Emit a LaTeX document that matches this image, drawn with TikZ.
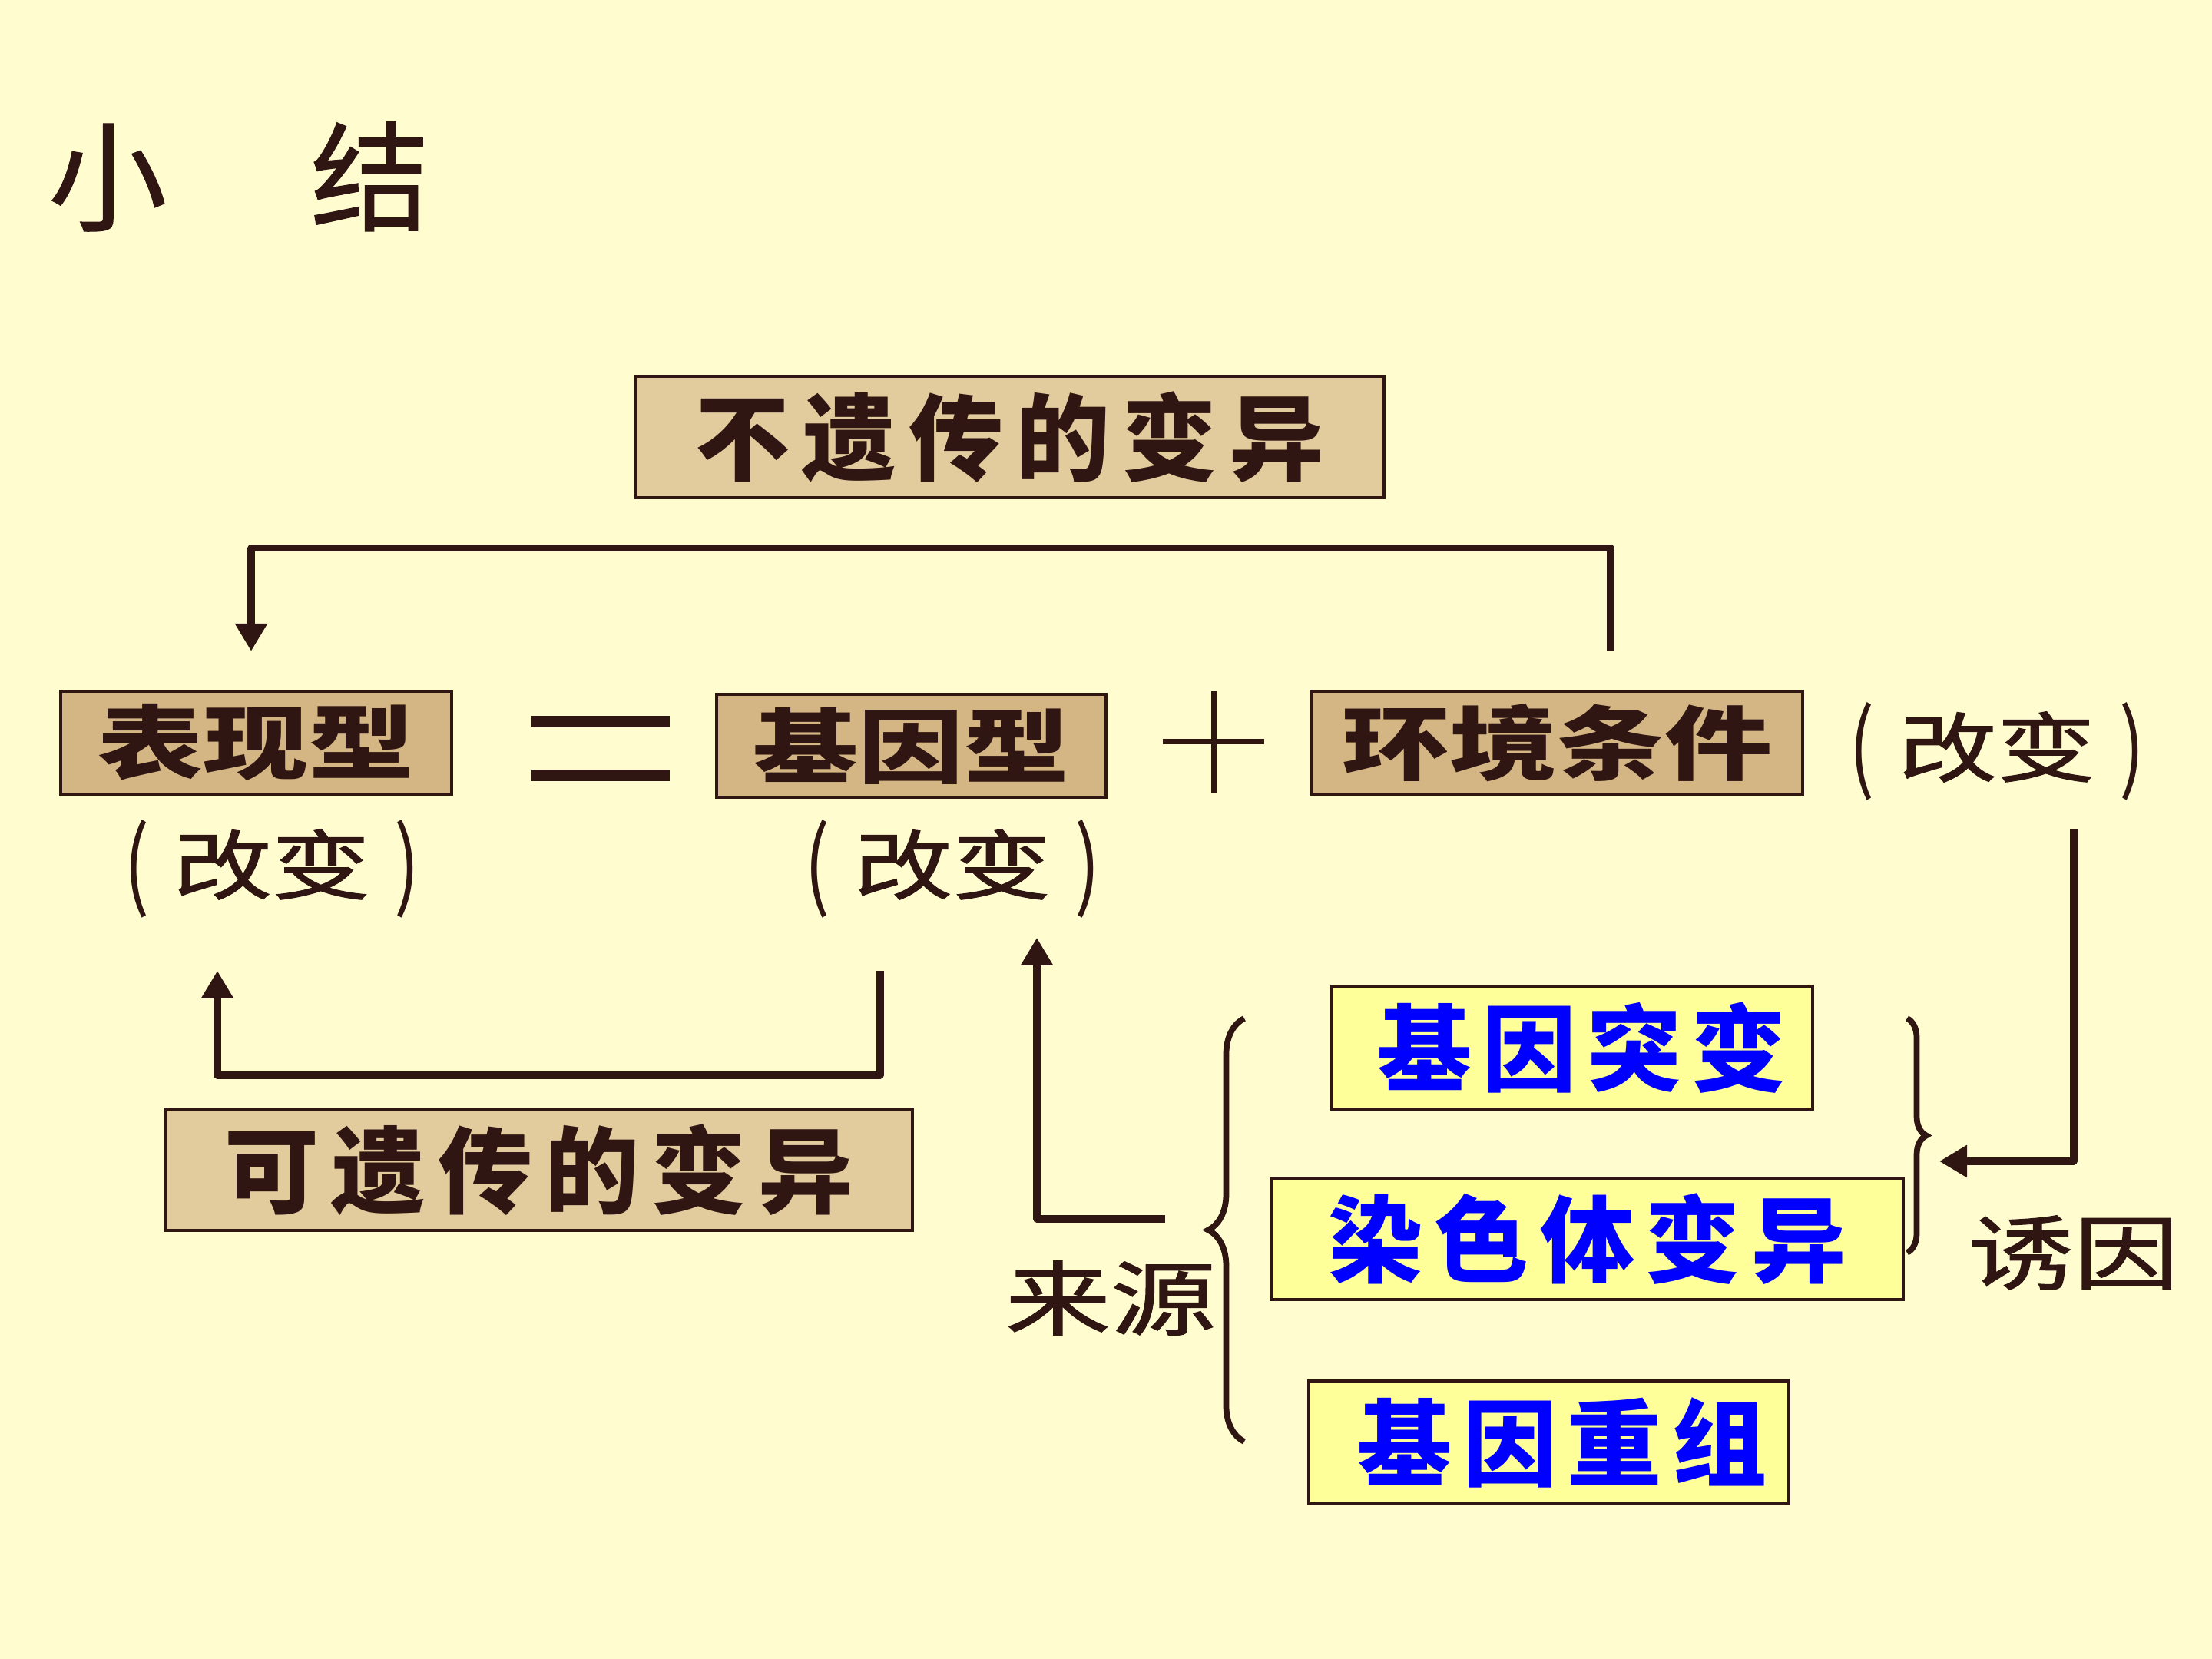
\documentclass[tikz,border=0pt]{standalone}
\usepackage{fontspec}
\usepackage{graphicx}
\setmainfont{Noto Sans CJK SC}
\usetikzlibrary{arrows.meta,decorations.pathreplacing}
\definecolor{bg}{RGB}{255,253,208}
\definecolor{ink}{RGB}{48,22,18}
\definecolor{tanc}{RGB}{212,181,132}
\definecolor{papc}{RGB}{226,204,158}
\definecolor{ylw}{RGB}{255,255,153}
\definecolor{blu}{RGB}{0,0,255}
\newcommand{\gaibianlbl}{\raisebox{-2pt}{\scalebox{1}[1.28]{(}}\hspace{9pt}{\addfontfeatures{FakeBold=1.2}\scalebox{1.3}[1]{改变}}\hspace{9pt}\raisebox{-2pt}{\scalebox{1}[1.28]{)}}}
\begin{document}
\begin{tikzpicture}[x=1cm,y=1cm,
  box/.style={draw=ink, line width=1.2pt, inner sep=0pt, anchor=center},
  tanbox/.style={box, fill=tanc, text=ink, font=\bfseries\fontsize{30}{36}\selectfont},
  papbox/.style={box, fill=papc, text=ink, font=\bfseries\fontsize{35}{42}\selectfont},
  ylwbox/.style={box, fill=ylw, text=blu, font=\bfseries\fontsize{35}{42}\selectfont},
  lbl/.style={text=ink, inner sep=0pt, font=\fontsize{28}{34}\selectfont},
  conn/.style={draw=ink, line width=2.6pt, line join=round},
  arr/.style={conn, -{Triangle[length=0.36cm,width=0.40cm]}},
  brc/.style={draw=ink, line width=2.2pt, decorate, decoration={brace, amplitude=#1}},
  brc/.default=0.45cm]
\useasboundingbox (0,0) rectangle (28.8,21.6);
\fill[bg] (0,0) rectangle (28.8,21.6);

% title
\node[lbl, font=\fontsize{44}{52}\selectfont] (title) at (3.11,19.30) {\addfontfeatures{FakeBold=0.8}小\hspace{1.87cm}结};

% boxes
\node[papbox, minimum width=9.74cm, minimum height=1.58cm] (A) at (13.15,15.91) {\addfontfeatures{LetterSpace=13}不遗传的变异};
\node[tanbox, minimum width=5.09cm, minimum height=1.34cm] (B) at (3.335,11.93) {\scalebox{1.3}[1]{表现型}};
\node[tanbox, minimum width=5.07cm, minimum height=1.34cm] (C) at (11.865,11.89) {\scalebox{1.3}[1]{基因型}};
\node[tanbox, minimum width=6.39cm, minimum height=1.34cm] (D) at (20.275,11.93) {\scalebox{1.33}[1]{环境条件}};
\node[papbox, minimum width=9.73cm, minimum height=1.58cm] (E) at (7.015,6.37) {\addfontfeatures{LetterSpace=13}可遗传的变异};
\node[ylwbox, minimum width=6.26cm, minimum height=1.60cm] (F) at (20.47,7.96) {\hspace{0.25cm}\addfontfeatures{LetterSpace=11}基因突变};
\node[ylwbox, minimum width=8.23cm, minimum height=1.58cm] (G) at (20.665,5.47) {\addfontfeatures{LetterSpace=12}染色体变异};
\node[ylwbox, minimum width=6.25cm, minimum height=1.60cm] (H) at (20.165,2.82) {\hspace{0.35cm}\addfontfeatures{LetterSpace=11}基因重组};

% labels
\node[lbl] (L1) at (3.54,10.29) {\gaibianlbl};
\node[lbl] (L2) at (12.40,10.29) {\gaibianlbl};
\node[lbl] (L3) at (26.00,11.82) {\gaibianlbl};
\node[lbl, font=\fontsize{30}{36}\selectfont] (src) at (14.46,4.70) {\addfontfeatures{FakeBold=1.2}\scalebox{1.3}[1]{来源}};
\node[lbl, font=\fontsize{30}{36}\selectfont] (ind) at (27.00,5.29) {\addfontfeatures{FakeBold=1.2}\scalebox{1.3}[1]{诱因}};

% equals-like bars and plus
\fill[ink] (6.92,12.125) rectangle (8.72,12.275);
\fill[ink] (6.92,11.425) rectangle (8.72,11.575);
\draw[ink, line width=2pt] (15.14,11.94) -- (16.46,11.94) (15.80,12.60) -- (15.80,11.28);

% braces
\draw[brc=0.47cm] (16.20,2.83) -- (16.20,8.34);
\draw[brc=0.25cm] (24.83,8.34) -- (24.83,5.29);
\coordinate (rtip) at (25.25,6.48);

% connectors
\draw[arr] ([xshift=0.695cm,yshift=0.5cm]D.north) -- ++(0,1.34) -| ([xshift=-0.065cm,yshift=0.5cm]B.north);
\draw[arr] ([xshift=-0.94cm,yshift=-1.33cm]L2.center) -- ++(0,-1.36) -| ([xshift=-0.71cm,yshift=-1.33cm]L1.center);
\draw[arr] ([xshift=0.71cm,yshift=1.03cm]src.center) -| ([xshift=1.10cm,yshift=-0.90cm]L2.center);
\draw[arr] ([xshift=1.0cm,yshift=-1.02cm]L3.center) |- (rtip);
\end{tikzpicture}
\end{document}
